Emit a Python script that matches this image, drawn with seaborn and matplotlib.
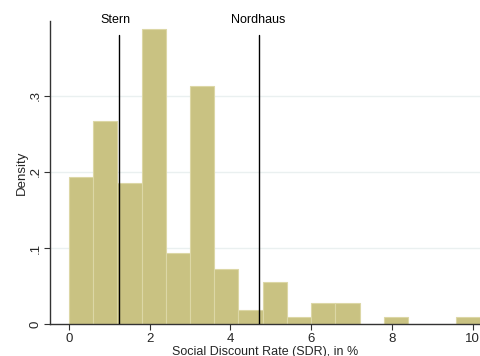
import matplotlib
matplotlib.use("Agg")
import matplotlib.pyplot as plt
import seaborn as sns
import numpy as np

# Data
bin_edges = [0.0, 0.6, 1.2, 1.8, 2.4, 3.0, 3.6, 4.2, 4.8, 5.4, 6.0, 6.6, 7.2, 7.8, 8.4, 9.0, 9.6, 10.2]
densities = [0.193, 0.267, 0.185, 0.387, 0.093, 0.313, 0.073, 0.018, 0.056, 0.009,
             0.028, 0.028, 0.0, 0.009, 0.0, 0.0, 0.009]
ref_names = ["Stern", "Nordhaus"]
ref_values = [1.25, 4.7]
ref_label_x = [1.14, 4.7]
x_ticks = [0, 2, 4, 6, 8, 10]
y_ticks = [0, 0.1, 0.2, 0.3]
y_ticklabels = ["0", ".1", ".2", ".3"]

sns.set_style("white")
plt.rcParams["font.family"] = ["Liberation Sans", "DejaVu Sans"]

W, H = 481, 356
fig = plt.figure(figsize=(W / 100, H / 100), dpi=100)
ax = fig.add_axes([50 / W, (H - 324.2) / H, (W - 50) / W, (324.2 - 21) / H])

centers = [(a + b) / 2 for a, b in zip(bin_edges[:-1], bin_edges[1:])]
sns.histplot(x=centers, weights=densities, bins=bin_edges, stat="count",
             color="#c9c282", alpha=1, edgecolor="#dcd7a6", linewidth=0.8, ax=ax, zorder=2)

ax.set_xlim(-0.47, 10.21)
ax.set_ylim(0, 0.398)

for y in y_ticks[1:]:
    ax.axhline(y, color="#eaf0f0", linewidth=1.0, zorder=0)

for name, v, lx in zip(ref_names, ref_values, ref_label_x):
    ax.plot([v, v], [0, 0.38], color="black", linewidth=1.0, zorder=3)
    ax.text(lx, 0.3995, name, ha="center", va="center", fontsize=9, color="black",
            clip_on=False)

ax.set_xticks(x_ticks)
ax.set_xticklabels([str(t) for t in x_ticks])
ax.set_yticks(y_ticks)
ax.set_yticklabels(y_ticklabels, rotation=90, va="center")
ax.tick_params(axis="both", direction="out", length=4, width=0.8, color="#333333",
               labelsize=9.5, pad=2, left=True, bottom=True)

for s in ["top", "right"]:
    ax.spines[s].set_visible(False)
for s in ["left", "bottom"]:
    ax.spines[s].set_color("#333333")
    ax.spines[s].set_linewidth(1.0)

ax.set_xlabel("Social Discount Rate (SDR), in %", fontsize=9, labelpad=1)
ax.set_ylabel("Density", fontsize=9.5, labelpad=1)

fig.savefig("out.png", dpi=100)
